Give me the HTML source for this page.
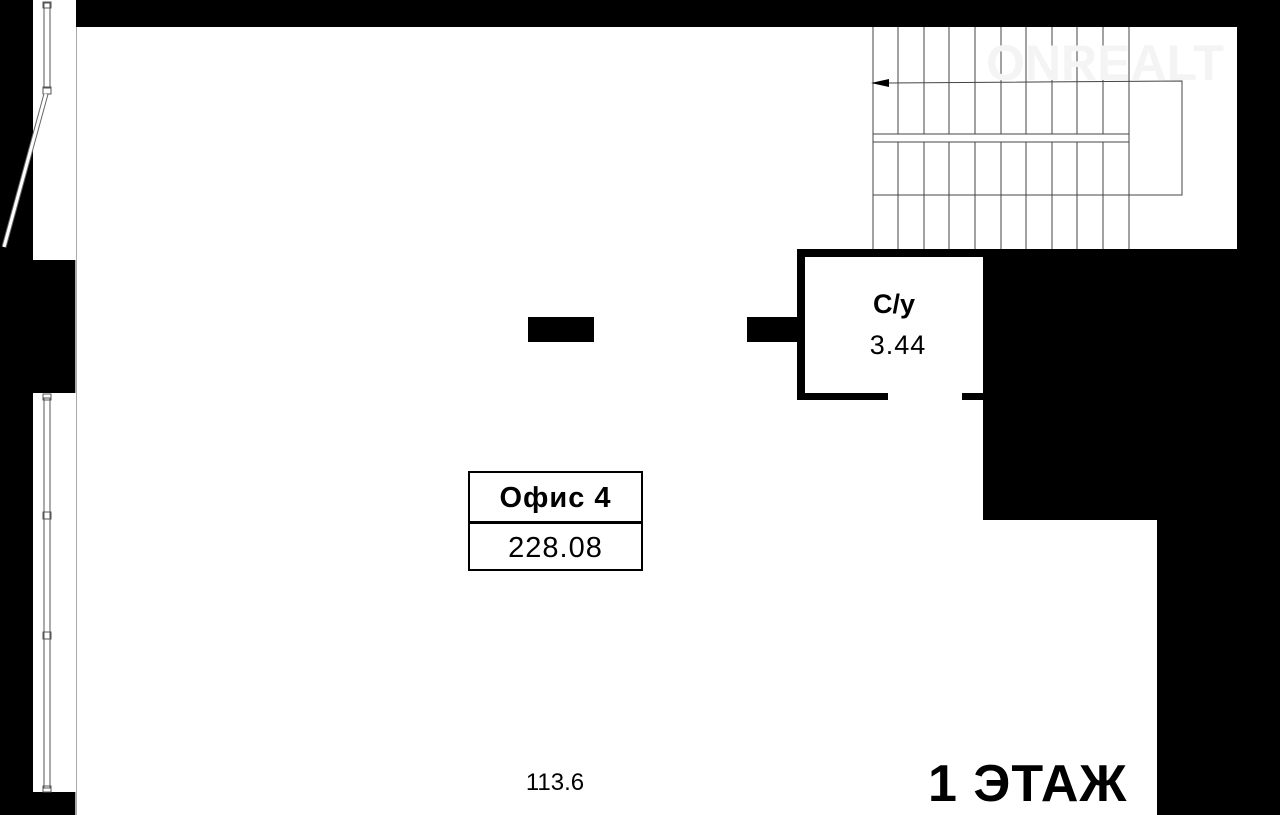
<!DOCTYPE html>
<html><head><meta charset="utf-8"><style>
body{margin:0;width:1280px;height:815px;background:#000;position:relative;overflow:hidden;font-family:"Liberation Sans",sans-serif}
div{position:absolute}
.w{background:#fff}.b{background:#000}
</style></head><body>
<div class="w" style="left:76px;top:27px;width:1081px;height:788px"></div>
<div class="w" style="left:1157px;top:27px;width:80px;height:222px"></div>
<div class="b" style="left:983px;top:249px;width:174px;height:271px"></div>
<div style="left:75px;top:27px;width:2px;height:788px;background:#aaa"></div>
<div class="w" style="left:33px;top:0;width:43px;height:260px"></div>
<div class="w" style="left:33px;top:393px;width:43px;height:399px"></div>
<svg style="position:absolute;left:0;top:0" width="1280" height="815">
<g fill="none" stroke="#555" stroke-width="1">
<rect x="44" y="3" width="6" height="85"/>
<rect x="43" y="2" width="8" height="6"/><rect x="43" y="87" width="8" height="7"/>
<rect x="44" y="398" width="6" height="390"/>
<rect x="43" y="394" width="8" height="6"/><rect x="43" y="512" width="8" height="7"/><rect x="43" y="632" width="8" height="7"/><rect x="43" y="786" width="8" height="6"/>
</g>
<line x1="46" y1="94" x2="4" y2="247" stroke="#666" stroke-width="5"/>
<line x1="46" y1="94" x2="4" y2="247" stroke="#fff" stroke-width="3"/>
<g stroke="#444" stroke-width="1">
<line x1="873" y1="27" x2="873" y2="249"/><line x1="898" y1="27" x2="898" y2="249"/><line x1="924" y1="27" x2="924" y2="249"/><line x1="949" y1="27" x2="949" y2="249"/><line x1="975" y1="27" x2="975" y2="249"/><line x1="1001" y1="27" x2="1001" y2="249"/><line x1="1026" y1="27" x2="1026" y2="249"/><line x1="1052" y1="27" x2="1052" y2="249"/><line x1="1077" y1="27" x2="1077" y2="249"/><line x1="1103" y1="27" x2="1103" y2="249"/><line x1="1129" y1="27" x2="1129" y2="249"/>
</g>
<rect x="873" y="134" width="256" height="8" fill="#fff" stroke="#444"/>
<polyline points="880,83 1182,81 1182,195 873,195" fill="none" stroke="#444"/>
<polygon points="871,83 889,79 889,87" fill="#000"/>
<text x="1105" y="80" font-size="50" font-weight="bold" fill="#f4f4f4" text-anchor="middle">ONREALT</text>
</svg>
<div class="b" style="left:797px;top:249px;width:186px;height:8px"></div>
<div class="b" style="left:797px;top:249px;width:8px;height:151px"></div>
<div class="b" style="left:797px;top:393px;width:91px;height:7px"></div>
<div class="b" style="left:962px;top:393px;width:21px;height:7px"></div>
<div class="b" style="left:747px;top:317px;width:50px;height:25px"></div>
<div class="b" style="left:528px;top:317px;width:66px;height:25px"></div>
<div style="left:805px;top:289px;width:178px;text-align:center;font-size:27px;font-weight:bold">С/у</div>
<div style="left:809px;top:330px;width:178px;text-align:center;font-size:27px;letter-spacing:1px">3.44</div>
<div style="left:468px;top:471px;width:171px;height:96px;border:2px solid #000;background:#fff">
<div style="left:0;top:0;width:171px;height:48px;border-bottom:3px solid #000;text-align:center;line-height:50px;font-size:29px;font-weight:bold;letter-spacing:1px">Офис 4</div>
<div style="left:0;top:51px;width:171px;height:45px;text-align:center;line-height:48px;font-size:29px;letter-spacing:1px">228.08</div>
</div>
<div style="left:500px;top:769px;width:110px;text-align:center;font-size:24px">113.6</div>
<div style="left:928px;top:754px;font-size:52px;font-weight:bold;white-space:nowrap;letter-spacing:1px">1 ЭТАЖ</div>
</body></html>
